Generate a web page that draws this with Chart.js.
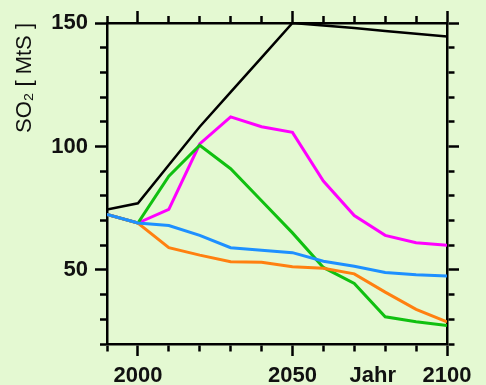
<!DOCTYPE html>
<html>
<head>
<meta charset="utf-8">
<script src="https://cdn.jsdelivr.net/npm/chart.js@4"></script>
<style>
  html, body { margin: 0; padding: 0; background: #e4f9d2; }
  #wrap { width: 486px; height: 385px; }
</style>
</head>
<body>
<div id="wrap"><canvas id="so2Chart" width="486" height="385"></canvas></div>
<script>
const years = [1990, 2000, 2010, 2020, 2030, 2040, 2050, 2060, 2070, 2080, 2090, 2100];
const black = [74.5, 77, 92.5, 108, 122, 136, 150, 149, 148, 146.8, 145.6, 144.5];
const magenta = [72.5, 69, 74.5, 101, 112, 108, 105.7, 86, 72, 64, 61, 60];
const green = [72.5, 69, 88, 100.5, 91, 78, 65, 51, 44.5, 31, 29, 27.5];
const orange = [72.5, 69, 59, 56, 53.3, 53.1, 51.3, 50.7, 48.4, 41, 34, 29];
const blue = [72.5, 69, 68, 64, 59, 58, 57, 53.5, 51.5, 49, 48, 47.5];

const xTicks = [1990, 2000, 2010, 2020, 2030, 2040, 2050, 2060, 2070, 2076, 2080, 2090, 2100];
const xLabels = { 2000: '2000', 2050: '2050', 2076: 'Jahr', 2100: '2100' };
const yTicks = [20, 30, 40, 50, 60, 70, 80, 90, 100, 110, 120, 130, 140, 150];
const yLabels = { 50: '50', 100: '100', 150: '150' };

const FONT = '"Liberation Sans", Arial, sans-serif';
const toPoints = vals => years.map((y, i) => ({ x: y, y: vals[i] }));

const isMajor = v => v % 50 === 0;

// ticks: major long, minor short (dash pattern cuts the tick); start side differs by position
function tickGrid(fromBorder, hidden) {
    return {
        drawOnChartArea: false,
        tickLength: 12,
        tickWidth: 2.5,
        tickColor: ctx => (hidden && hidden(ctx.tick.value)) ? 'rgba(0,0,0,0)' : '#000',
        tickBorderDash: ctx => isMajor(ctx.tick.value) ? [] : (fromBorder ? [6, 100] : [0, 5, 100])
    };
}

new Chart(document.getElementById('so2Chart'), {
    type: 'line',
    data: {
        datasets: [
            { data: toPoints(black), borderColor: '#000000', borderWidth: 2.5, order: 4 },
            { data: toPoints(magenta), borderColor: '#ff00ff', order: 3 },
            { data: toPoints(green), borderColor: '#10c010', order: 2 },
            { data: toPoints(orange), borderColor: '#ff8010', order: 1 },
            { data: toPoints(blue), borderColor: '#1e90ff', order: 0 }
        ]
    },
    options: {
        responsive: false,
        animation: false,
        layout: { padding: 0 },
        elements: {
            line: { borderWidth: 3, tension: 0 },
            point: { radius: 0 }
        },
        plugins: { legend: { display: false }, tooltip: { enabled: false } },
        scales: {
            x: {
                type: 'linear', position: 'bottom', min: 1990, max: 2100,
                afterBuildTicks: s => { s.ticks = xTicks.map(v => ({ value: v })); },
                afterFit: s => { s.height = 41; },
                border: { color: '#000', width: 2.5 },
                grid: tickGrid(true, v => v === 2076),
                ticks: {
                    autoSkip: false, maxRotation: 0, padding: 7, color: '#111',
                    font: { family: FONT, size: 22, weight: 'bold' },
                    callback: v => xLabels[v] || ''
                }
            },
            xTop: {
                type: 'linear', position: 'top', min: 1990, max: 2100,
                afterBuildTicks: s => { s.ticks = xTicks.filter(v => v % 10 === 0).map(v => ({ value: v })); },
                afterFit: s => { s.height = 23; },
                border: { color: '#000', width: 2.5 },
                grid: tickGrid(false),
                ticks: { display: false }
            },
            y: {
                type: 'linear', position: 'left', min: 20, max: 150,
                afterBuildTicks: s => { s.ticks = yTicks.map(v => ({ value: v })); },
                afterFit: s => { s.width = 107; },
                border: { color: '#000', width: 2.5 },
                grid: tickGrid(false),
                ticks: {
                    autoSkip: false, padding: 7, color: '#111',
                    font: { family: FONT, size: 22, weight: 'bold' },
                    callback: v => yLabels[v] || ''
                },
                title: {
                    display: true, text: 'SO\u2082 [ MtS ]', align: 'end', color: '#111',
                    padding: { top: 12, bottom: 0 },
                    font: { family: FONT, size: 22 }
                }
            },
            yRight: {
                type: 'linear', position: 'right', min: 20, max: 150,
                afterBuildTicks: s => { s.ticks = yTicks.map(v => ({ value: v })); },
                afterFit: s => { s.width = 39; },
                border: { color: '#000', width: 2.5 },
                grid: tickGrid(true),
                ticks: { display: false }
            }
        }
    }
});
</script>
</body>
</html>
